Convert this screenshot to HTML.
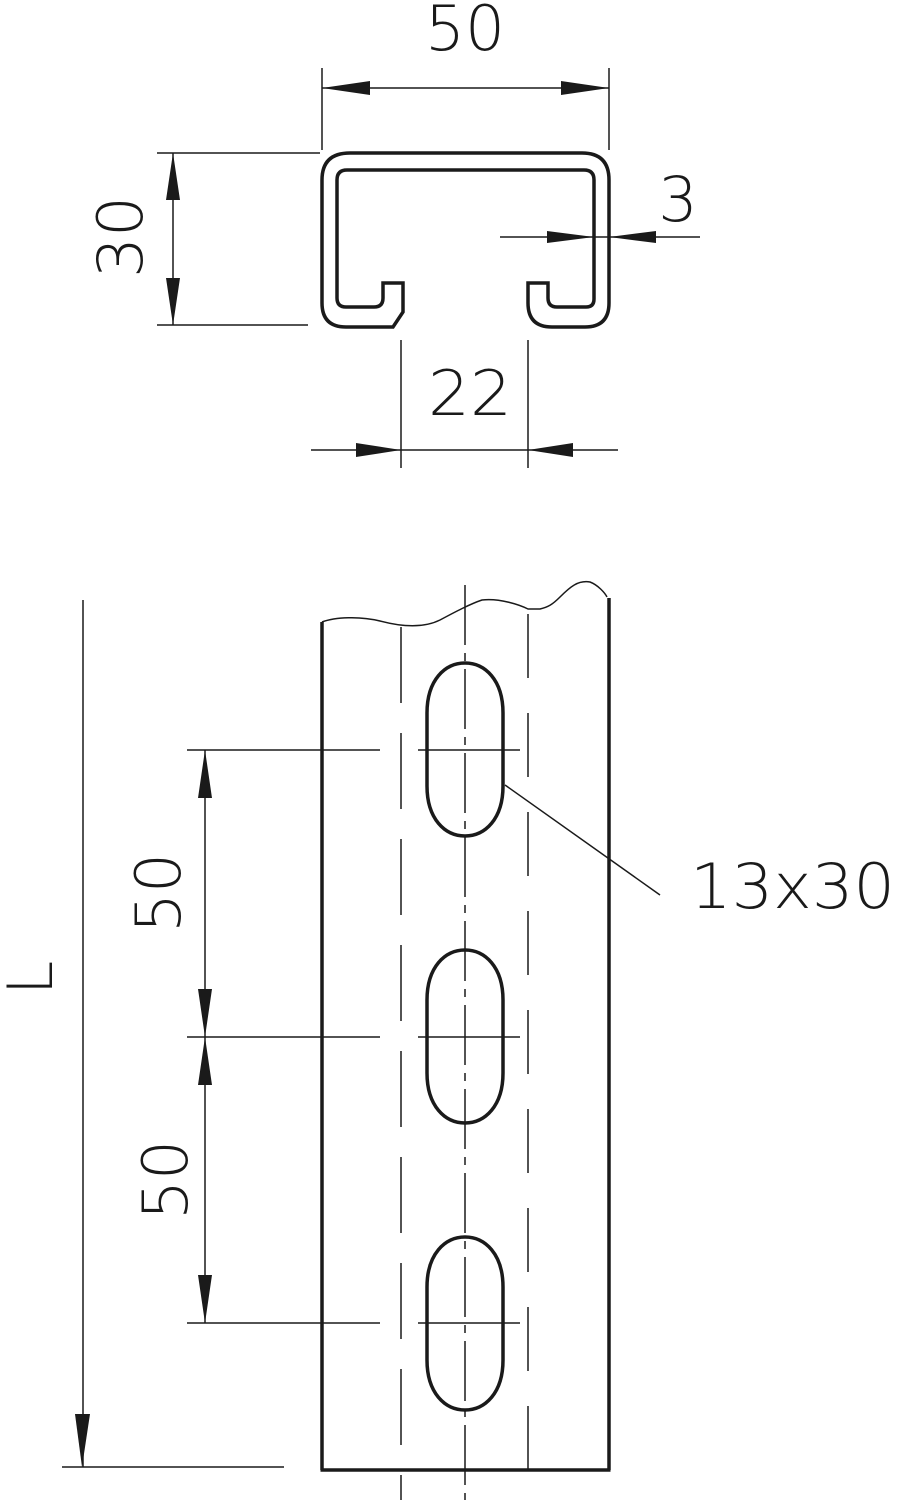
<!DOCTYPE html>
<html><head><meta charset="utf-8"><style>html,body{margin:0;padding:0;background:#fff}svg{display:block}</style></head>
<body>
<svg width="897" height="1500" viewBox="0 0 897 1500" xmlns="http://www.w3.org/2000/svg">
<g fill="none" stroke="#1a1a1a">
<path stroke-width="3.5" d="M350,153 H582 Q609,153 609,180 V303 Q609,327 585,327 H552 Q528,327 528,303 V283 H548 V298 Q548,307 557,307 H586 Q594,307 594,299 V180 Q594,170 584,170 H347 Q337,170 337,180 V298 Q337,307 346,307 H374 Q383,307 383,298 V283 H403 V312 L393,327 H346 Q322,327 322,303 V180 Q322,153 350,153 Z"/>
<g stroke-width="1.5">
<line x1="322" y1="68" x2="322" y2="150"/><line x1="609" y1="68" x2="609" y2="150"/>
<line x1="322" y1="88" x2="609" y2="88"/>
<line x1="157" y1="153" x2="320" y2="153"/><line x1="157" y1="325" x2="308" y2="325"/>
<line x1="173" y1="153" x2="173" y2="325"/>
<line x1="500" y1="237" x2="700" y2="237"/>
<line x1="401" y1="340" x2="401" y2="468"/><line x1="528" y1="340" x2="528" y2="468"/>
<line x1="311" y1="450" x2="618" y2="450"/>
<line x1="83" y1="600" x2="83" y2="1467"/><line x1="62" y1="1467" x2="284" y2="1467"/>
<line x1="205" y1="750" x2="205" y2="1323"/>
<line x1="187" y1="750" x2="380" y2="750"/><line x1="418" y1="750" x2="520" y2="750"/>
<line x1="187" y1="1037" x2="380" y2="1037"/><line x1="418" y1="1037" x2="520" y2="1037"/>
<line x1="187" y1="1323" x2="380" y2="1323"/><line x1="418" y1="1323" x2="520" y2="1323"/>
<line x1="505" y1="785" x2="660" y2="895"/>
<line x1="401" y1="627" x2="401" y2="1500" stroke-dasharray="76,30"/>
<line x1="528" y1="609" x2="528" y2="1500" stroke-dasharray="64,35" stroke-dashoffset="-5"/>
<line x1="465" y1="585" x2="465" y2="1500" stroke-dasharray="60,8,8,8"/>
<path d="M322,622 C335,617 360,616 380,621 C395,625 420,630 440,620 C455,612 470,604 482,600 C500,598 520,605 528,609 H540 C548,607 552,605 560,597 C570,587 578,580 590,582 C598,585 605,593 607,597"/>
</g>
<g stroke-width="3.5">
<line x1="322" y1="622" x2="322" y2="1470"/><line x1="609" y1="598" x2="609" y2="1470"/>
<line x1="320.5" y1="1470" x2="610.5" y2="1470"/>
<path d="M427,713 C427,680 445,663 465,663 C485,663 503,680 503,713 V786 C503,819 485,836 465,836 C445,836 427,819 427,786 Z"/>
<path d="M427,1000 C427,967 445,950 465,950 C485,950 503,967 503,1000 V1073 C503,1106 485,1123 465,1123 C445,1123 427,1106 427,1073 Z"/>
<path d="M427,1287 C427,1254 445,1237 465,1237 C485,1237 503,1254 503,1287 V1360 C503,1393 485,1410 465,1410 C445,1410 427,1393 427,1360 Z"/>
</g>
</g>
<g fill="#1a1a1a">
<polygon points="322,88 370,81 370,95"/><polygon points="609,88 561,81 561,95"/>
<polygon points="173,153 166,200 180,200"/><polygon points="173,325 166,278 180,278"/>
<polygon points="594,237 547,231 547,243"/><polygon points="609,237 656,231 656,243"/>
<polygon points="401,450 356,443 356,457"/><polygon points="528,450 573,443 573,457"/>
<polygon points="82,1467 75,1414 90,1414"/>
<polygon points="205,750 198,798 212,798"/><polygon points="205,1037 198,989 212,989"/>
<polygon points="205,1037 198,1085 212,1085"/><polygon points="205,1323 198,1275 212,1275"/>
</g>
<g font-family="DejaVu Sans, Liberation Sans, sans-serif" font-weight="200" fill="#1a1a1a" font-size="62">
<text x="465" y="50" text-anchor="middle" textLength="80" lengthAdjust="spacingAndGlyphs">50</text>
<text x="678" y="221" text-anchor="middle">3</text>
<text x="470" y="415" text-anchor="middle" textLength="84" lengthAdjust="spacingAndGlyphs">22</text>
<text x="690" y="908" textLength="205" lengthAdjust="spacingAndGlyphs">13x30</text>
<text transform="translate(142,237) rotate(-90)" text-anchor="middle" textLength="82" lengthAdjust="spacingAndGlyphs">30</text>
<text transform="translate(180,893) rotate(-90)" text-anchor="middle" textLength="80" lengthAdjust="spacingAndGlyphs">50</text>
<text transform="translate(187,1180) rotate(-90)" text-anchor="middle" textLength="80" lengthAdjust="spacingAndGlyphs">50</text>
<text transform="translate(52,978) rotate(-90)" text-anchor="middle">L</text>
</g>
</svg>
</body></html>
